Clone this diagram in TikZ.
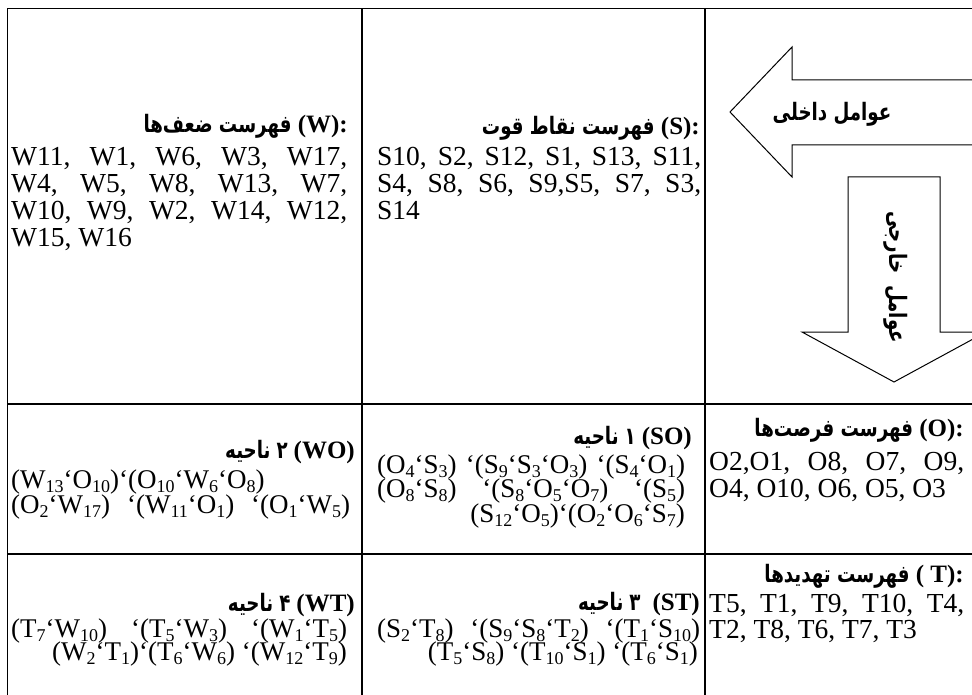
\documentclass[tikz,border=0pt]{standalone}
\usepackage{fontspec}
\setmainfont{Liberation Serif}
\newfontfamily\pfont[Script=Arabic,FakeStretch=0.76]{DejaVu Sans}
\TeXXeTstate=1
\newcommand\fa[1]{{\pfont\bfseries\fontsize{24}{24}\selectfont\beginR #1\endR}}
\newcommand\lt[1]{{\bfseries\fontsize{25}{25}\selectfont #1}}
\newcommand\sbx[1]{\raisebox{-4.5pt}{\fontsize{18}{18}\selectfont #1}}
\begin{document}
\begin{tikzpicture}[x=1pt,y=-1pt,
  tab/.style={line width=1.7pt},
  arr/.style={line width=1pt,line join=miter},
  lst/.style={inner sep=0pt,font=\fontsize{27.5}{27.5}\selectfont},
  reg/.style={inner sep=0pt,font=\fontsize{27}{27}\selectfont},
  hd/.style={inner sep=0pt,font=\fontsize{24}{24}\selectfont}]
\useasboundingbox (0,0) rectangle (972,695);
\clip (0,0) rectangle (972,695);
% table
\draw[tab] (7.5,700) -- (7.5,8.5) -- (980,8.5);
\draw[tab] (362,8.5) -- (362,700);
\draw[tab] (705,8.5) -- (705,700);
\draw[tab] (7.5,404) -- (980,404);
\draw[tab] (7.5,554) -- (980,554);
% arrows
\draw[arr] (990,80) -- (792,80) -- (792,47) -- (730,112) -- (792,177) -- (792,145) -- (990,145);
\draw[arr] (848,177) -- (848,332) -- (802,332) -- (894,382) -- (986,332) -- (940,332) -- (940,177) -- cycle;
\node[hd,anchor=base] (inner) at (832,121) {\fa{عوامل داخلی}};
\node[hd,rotate=-90] (outer) at (896,277) {\fa{عوامل\enspace خارجی}};
% W
\node[hd,anchor=base east] (wh) at (348,133) {\fa{فهرست ضعف‌ها}\lt{ (W):}};
\node[lst,anchor=base west] (w1) at (11,166) {\makebox[336pt][s]{W11, W1, W6, W3, W17,}};
\node[lst,anchor=base west] (w2) at (11,193) {\makebox[336pt][s]{W4, W5, W8, W13, W7,}};
\node[lst,anchor=base west] (w3) at (11,220) {\makebox[336pt][s]{W10, W9, W2, W14, W12,}};
\node[lst,anchor=base west] (w4) at (11,247) {W15, W16};
% S
\node[hd,anchor=base east] (sh) at (700,135) {\fa{فهرست نقاط قوت}\lt{ (S):}};
\node[lst,anchor=base west] (s1) at (377,166) {\makebox[324pt][s]{S10, S2, S12, S1, S13, S11,}};
\node[lst,anchor=base west] (s2) at (377,193) {\makebox[324pt][s]{S4, S8, S6, S9,S5, S7, S3,}};
\node[lst,anchor=base west] (s3) at (377,220) {S14};
% O
\node[hd,anchor=base east] (oh) at (964,436) {\fa{فهرست فرصت‌ها}\lt{ (O):}};
\node[lst,anchor=base west] (o1) at (709,470) {\makebox[255pt][s]{O2,O1, O8, O7, O9,}};
\node[lst,anchor=base west] (o2) at (709,497) {O4, O10, O6, O5, O3};
% T
\node[hd,anchor=base east] (th) at (964,582) {\fa{فهرست تهدیدها}\lt{ ( T):}};
\node[lst,anchor=base west] (t1) at (709,612) {\makebox[255pt][s]{T5, T1, T9, T10, T4,}};
\node[lst,anchor=base west] (t2) at (709,638) {T2, T8, T6, T7, T3};
% SO
\node[hd,anchor=base east] (soh) at (692,444) {\fa{ناحیه} \fa{۱} \lt{(SO)}};
\node[reg,anchor=base west] (so1) at (377,473) {\makebox[308pt][s]{(O\sbx{4}‘S\sbx{3}) ‘(S\sbx{9}‘S\sbx{3}‘O\sbx{3}) ‘(S\sbx{4}‘O\sbx{1})}};
\node[reg,anchor=base west] (so2) at (377,497) {\makebox[308pt][s]{(O\sbx{8}‘S\sbx{8}) ‘(S\sbx{8}‘O\sbx{5}‘O\sbx{7}) ‘(S\sbx{5})}};
\node[reg,anchor=base east] (so3) at (685,522) {(S\sbx{12}‘O\sbx{5})‘(O\sbx{2}‘O\sbx{6}‘S\sbx{7})};
% WO
\node[hd,anchor=base east] (woh) at (355,458) {\fa{ناحیه} \fa{۲} \lt{(WO)}};
\node[reg,anchor=base west] (wo1) at (11,488) {(W\sbx{13}‘O\sbx{10})‘(O\sbx{10}‘W\sbx{6}‘O\sbx{8})};
\node[reg,anchor=base west] (wo2) at (11,513) {\makebox[339pt][s]{(O\sbx{2}‘W\sbx{17}) ‘(W\sbx{11}‘O\sbx{1}) ‘(O\sbx{1}‘W\sbx{5})}};
% ST
\node[hd,anchor=base east] (sth) at (700,610) {\fa{ناحیه} \fa{۳} \ \lt{(ST)}};
\node[reg,anchor=base west] (st1) at (377,637) {\makebox[323pt][s]{(S\sbx{2}‘T\sbx{8}) ‘(S\sbx{9}‘S\sbx{8}‘T\sbx{2}) ‘(T\sbx{1}‘S\sbx{10})}};
\node[reg,anchor=base east] (st2) at (698,660) {(T\sbx{5}‘S\sbx{8}) ‘(T\sbx{10}‘S\sbx{1}) ‘(T\sbx{6}‘S\sbx{1})};
% WT
\node[hd,anchor=base east] (wth) at (355,611) {\fa{ناحیه} \fa{۴} \lt{(WT)}};
\node[reg,anchor=base west] (wt1) at (11,637) {\makebox[336pt][s]{(T\sbx{7}‘W\sbx{10}) ‘(T\sbx{5}‘W\sbx{3}) ‘(W\sbx{1}‘T\sbx{5})}};
\node[reg,anchor=base east] (wt2) at (347,660) {(W\sbx{2}‘T\sbx{1})‘(T\sbx{6}‘W\sbx{6}) ‘(W\sbx{12}‘T\sbx{9})};
\end{tikzpicture}
\end{document}
